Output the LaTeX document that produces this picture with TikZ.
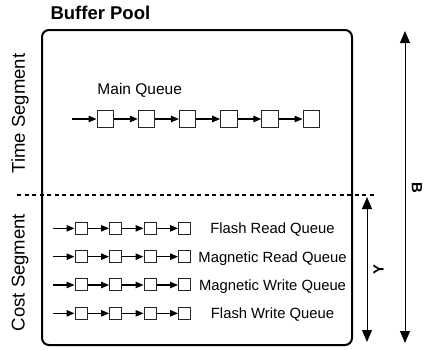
\documentclass[tikz,border=0pt]{standalone}
\usepackage{fontspec}
\setmainfont{Liberation Sans}
\usetikzlibrary{arrows.meta}

\begin{document}
\begin{tikzpicture}[x=1pt,y=-1pt,
        page/.style={draw=black!85,line width=1pt,minimum size=16.5pt,inner sep=0pt},
        slot/.style={draw=black!85,line width=1pt,minimum size=12pt,inner sep=0pt},
        link/.style={-{Triangle[length=8pt,width=6.5pt]},line width=1.1pt},
        span/.style={{Triangle[length=12pt,width=10pt]}-{Triangle[length=12pt,width=10pt]},line width=1pt},
        seg/.style={font=\fontsize{18.5}{20}\selectfont,rotate=90},
        lbl/.style={font=\fontsize{14.8}{16}\selectfont,anchor=base}]
    \useasboundingbox (0,0) rectangle (426,349);

    % pool frame and title
    \draw[line width=2pt,rounded corners=7pt] (42,30) rectangle (352,345);
    \node[font=\fontsize{18.5}{20}\selectfont\bfseries,anchor=base west] (pool) at (47,19.5) {Buffer Pool};

    % split between the two segments
    \coordinate (cutL) at (17,195);
    \coordinate (cutR) at (375,195);
    \draw[line width=2pt,dash pattern=on 4pt off 3.5pt] (cutL) -- (cutR);

    \node[seg] (time) at (20,113.5) {Time Segment};
    \node[seg] (cost) at (20,272.5) {Cost Segment};

    % main queue
    \node[lbl,font=\fontsize{15.5}{17}\selectfont] (mainq) at (139.7,94) {Main Queue};
    \coordinate (m0) at (72,119);
    \foreach \i in {1,...,6}
        \node[page] (m\i) at ({105.3+41.2*(\i-1)},119) {};
    \foreach \i [count=\j from 0] in {1,...,6}
        \draw[link] (m\j) -- (m\i);

    % cost queues
    \foreach \name [count=\r] in {Flash Read Queue,Magnetic Read Queue,Magnetic Write Queue,Flash Write Queue} {
        \coordinate (c\r-0) at (53,{200+28.33*\r});
        \foreach \i in {1,...,4}
            \node[slot] (c\r-\i) at ({81+34.5*(\i-1)},{200+28.33*\r}) {};
        \foreach \i [count=\j from 0] in {1,...,4}
            \draw[link] (c\r-\j) -- (c\r-\i);
        \node[lbl] (q\r) at (272.5,{205.5+28.33*\r}) {\name};
    }

    % sizes
    \coordinate (ytop) at (367,197);
    \coordinate (ybot) at (367,342);
    \draw[span] (ytop) -- (ybot);
    \node[font=\fontsize{14.8}{16}\selectfont\bfseries,rotate=90,inner sep=0pt] (ylab) at (378.5,269.5) {Y};

    \coordinate (btop) at (405,31);
    \coordinate (bbot) at (405,343);
    \draw[span] (btop) -- (bbot);
    \node[font=\fontsize{14.8}{16}\selectfont\bfseries,rotate=-90,inner sep=0pt] (blab) at (417,188) {B};
\end{tikzpicture}
\end{document}
